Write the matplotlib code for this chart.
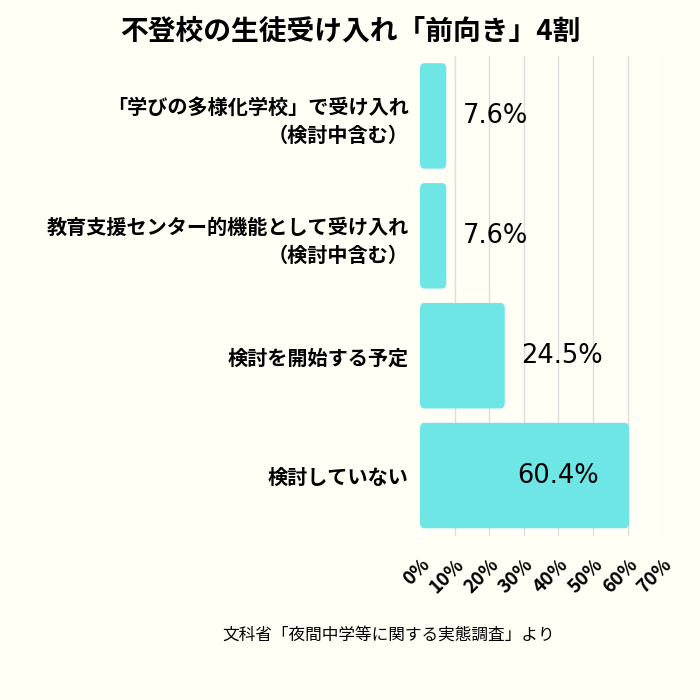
import matplotlib
matplotlib.use("Agg")
import matplotlib.pyplot as plt
from matplotlib.patches import FancyBboxPatch

plt.rcParams['font.family'] = 'Noto Sans CJK JP'

categories = ["「学びの多様化学校」で受け入れ\n（検討中含む）",
              "教育支援センター的機能として受け入れ\n（検討中含む）",
              "検討を開始する予定",
              "検討していない"]
values = [7.6, 7.6, 24.5, 60.4]
ticks = [0, 10, 20, 30, 40, 50, 60, 70]
tick_labels = [f"{t}%" for t in ticks]

bg = "#FFFFF5"
fig = plt.figure(figsize=(7, 7), dpi=100, facecolor=bg)
ax = fig.add_axes([0.6, 0.235, 0.346, 0.685], facecolor=bg)
ax.set_xlim(0, 70)
ax.set_ylim(len(values) - 0.5, -0.5)
for t in ticks[1:]:
    ax.axvline(t, color="#DDDDDD", lw=1, zorder=0)
for i, v in enumerate(values):
    p = FancyBboxPatch((0, i - 0.44), v, 0.88,
                       boxstyle="round,pad=0,rounding_size=1.2",
                       mutation_aspect=0.04,
                       fc="#6EE6E6", ec="none", zorder=2)
    ax.add_patch(p)
    if v > 40:
        ax.annotate(f"{v}%", (v, i), xytext=(-22, 0), textcoords="offset points",
                    ha="right", va="center", fontsize=18.5, family="DejaVu Sans", zorder=3)
    else:
        ax.annotate(f"{v}%", (v, i), xytext=(12, 0), textcoords="offset points",
                    ha="left", va="center", fontsize=18.5, family="DejaVu Sans", zorder=3)
ax.set_yticks(range(len(categories)))
ax.set_yticklabels(categories, fontsize=14.5, fontweight="bold", ha="right", linespacing=1.4)
ax.set_xticks(ticks)
ax.set_xticklabels(tick_labels, rotation=45, ha="right", va="top", fontsize=13.5, fontweight="bold",
                   rotation_mode="anchor")
ax.tick_params(length=0, pad=8)
ax.tick_params(axis="x", pad=14)
for s in ax.spines.values():
    s.set_visible(False)
fig.text(0.5, 0.955, "不登校の生徒受け入れ「前向き」4割", ha="center", va="center",
         fontsize=20, fontweight="bold")
fig.text(0.555, 0.092, "文科省「夜間中学等に関する実態調査」より", ha="center", va="center", fontsize=12)
fig.savefig("out.png", dpi=100, facecolor=bg)
